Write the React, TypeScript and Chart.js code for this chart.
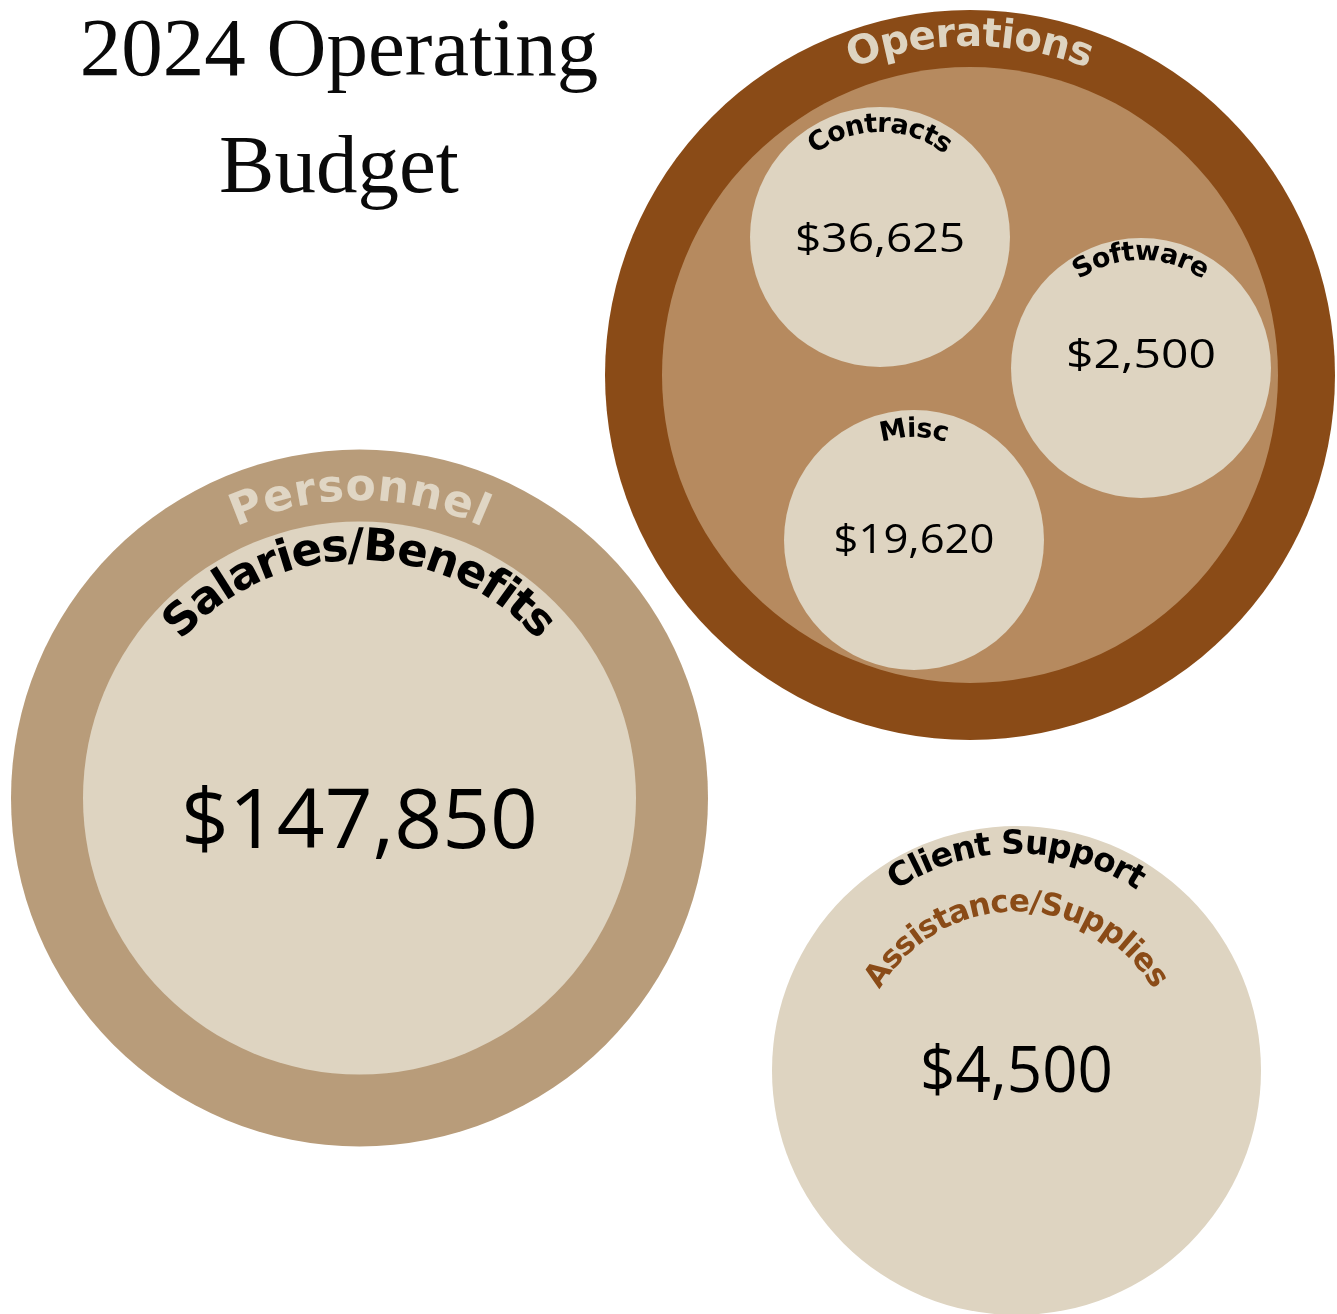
import React, { useEffect, useRef } from "react";
import { Chart, registerables } from "chart.js";

Chart.register(...registerables);

// ---------- data ----------
const TITLE_LINES = ["2024 Operating", "Budget"];

const GROUPS = ["Operations", "Personnel"];

const LEAVES = ["Contracts", "Software", "Misc", "Salaries/Benefits", "Client Support"];
const LEAF_PARENT = ["Operations", "Operations", "Operations", "Personnel", ""];
const LEAF_VALUES = [36625, 2500, 19620, 147850, 4500];
const LEAF_SUBLABEL = ["", "", "", "", "Assistance/Supplies"];

// ---------- layout (data units == pixels of the 1337x1314 frame) ----------
const GROUP_X = [970, 359.5];
const GROUP_Y = [375, 798];
const GROUP_R = [365, 348.5];
const GROUP_INNER_R = [308, 0];

const LEAF_X = [880, 1141, 914, 359.5, 1016.5];
const LEAF_Y = [237, 368, 540, 798, 1070.5];
const LEAF_R = [130, 130, 130, 276.5, 244.5];

// ---------- styles ----------
const W = 1337;
const H = 1314;
const COL_OPS = "#8A4B17";
const COL_OPS_INNER = "#B68A5F";
const COL_PERS = "#B89C7A";
const COL_LIGHT = "#DED4C1";
const COL_GROUP_OUTER = [COL_OPS, COL_PERS];
const COL_GROUP_INNER = [COL_OPS_INNER, "rgba(0,0,0,0)"];
const LABEL_FONT = "'DejaVu Sans', sans-serif";
const VALUE_FONT = "'Open Sans', sans-serif";
const TITLE_FONT = "'Liberation Serif', serif";

// group label: baseline radius, font size, arc length
const GROUP_LABEL = [
  { r: 329, size: 40, arc: 242, color: "#DED4C1" },
  { r: 298, size: 44, arc: 254, color: "#E0D6C4" },
];
// leaf label: baseline radius, font size, arc length
const LEAF_LABEL = [
  { r: 105, size: 27, arc: 140 },
  { r: 108, size: 27, arc: 132 },
  { r: 103, size: 27, arc: 66 },
  { r: 238, size: 45, arc: 404 },
  { r: 217, size: 33, arc: 256 },
];
const SUB_LABEL = [null, null, null, null, { r: 159, size: 31, arc: 330, color: COL_OPS }];
// value text: baseline offset from leaf centre, cap height, width
const VALUE_STYLE = [
  { dy: 15, cap: 30, width: 170 },
  { dy: 0, cap: 30, width: 150 },
  { dy: 13, cap: 30, width: 161 },
  { dy: 50, cap: 61, width: 357 },
  { dy: 21.5, cap: 47, width: 193 },
];

function fmt(v: number) {
  return "$" + v.toLocaleString("en-US");
}

function drawArcText(
  ctx: CanvasRenderingContext2D,
  text: string,
  cx: number,
  cy: number,
  R: number,
  font: string,
  color: string,
  arcLen: number
) {
  ctx.save();
  ctx.font = font;
  ctx.fillStyle = color;
  ctx.textAlign = "center";
  ctx.textBaseline = "alphabetic";
  const chars = Array.from(text);
  const widths = chars.map((c) => ctx.measureText(c).width);
  const natural = widths.reduce((a, b) => a + b, 0);
  const spacing = chars.length > 1 ? (arcLen - natural) / (chars.length - 1) : 0;
  const total = natural + spacing * (chars.length - 1);
  let s = -total / 2;
  chars.forEach((c, i) => {
    const mid = s + widths[i] / 2;
    const a = -Math.PI / 2 + mid / R;
    ctx.save();
    ctx.translate(cx + R * Math.cos(a), cy + R * Math.sin(a));
    ctx.rotate(a + Math.PI / 2);
    ctx.fillText(c, 0, 0);
    ctx.restore();
    s += widths[i] + spacing;
  });
  ctx.restore();
}

function drawValue(
  ctx: CanvasRenderingContext2D,
  text: string,
  cx: number,
  baseline: number,
  cap: number,
  width: number
) {
  ctx.save();
  ctx.font = `400 100px ${VALUE_FONT}`;
  const m = ctx.measureText("0");
  const capRatio = (m.actualBoundingBoxAscent || 71) / 100;
  const size = cap / capRatio;
  ctx.font = `400 ${size}px ${VALUE_FONT}`;
  const tw = ctx.measureText(text).width;
  const sx = width / tw;
  ctx.translate(cx, baseline);
  ctx.scale(sx, 1);
  ctx.fillStyle = "#000";
  ctx.textAlign = "center";
  ctx.textBaseline = "alphabetic";
  ctx.fillText(text, 0, 0);
  ctx.restore();
}

const labelPlugin = {
  id: "packLabels",
  afterDatasetsDraw(chart: any) {
    const ctx: CanvasRenderingContext2D = chart.ctx;
    const xs = chart.scales.x;
    const ys = chart.scales.y;

    // title
    ctx.save();
    ctx.fillStyle = "#0a0a0a";
    ctx.font = `400 83px ${TITLE_FONT}`;
    ctx.textAlign = "center";
    ctx.textBaseline = "alphabetic";
    ctx.fillText(TITLE_LINES[0], 339, 75);
    ctx.fillText(TITLE_LINES[1], 339, 192);
    ctx.restore();

    // group labels
    GROUPS.forEach((g, i) => {
      const st = GROUP_LABEL[i];
      drawArcText(
        ctx,
        g,
        xs.getPixelForValue(GROUP_X[i]),
        ys.getPixelForValue(GROUP_Y[i]),
        st.r,
        `700 ${st.size}px ${LABEL_FONT}`,
        st.color,
        st.arc
      );
    });

    // leaf labels + values
    LEAVES.forEach((name, i) => {
      const cx = xs.getPixelForValue(LEAF_X[i]);
      const cy = ys.getPixelForValue(LEAF_Y[i]);
      const st = LEAF_LABEL[i];
      drawArcText(ctx, name, cx, cy, st.r, `700 ${st.size}px ${LABEL_FONT}`, "#000", st.arc);
      const sub = SUB_LABEL[i];
      if (sub && LEAF_SUBLABEL[i]) {
        drawArcText(ctx, LEAF_SUBLABEL[i], cx, cy, sub.r, `700 ${sub.size}px ${LABEL_FONT}`, sub.color, sub.arc);
      }
      const vs = VALUE_STYLE[i];
      drawValue(ctx, fmt(LEAF_VALUES[i]), cx, cy + vs.dy, vs.cap, vs.width);
    });
  },
};

export default function App() {
  const ref = useRef<HTMLCanvasElement | null>(null);

  useEffect(() => {
    if (!ref.current) return;
    const chart = new Chart(ref.current, {
      type: "bubble",
      data: {
        datasets: [
          {
            label: "Groups",
            data: GROUPS.map((g, i) => ({ x: GROUP_X[i], y: GROUP_Y[i], r: GROUP_R[i] })),
            backgroundColor: COL_GROUP_OUTER,
            borderWidth: 0,
            clip: false,
            order: 3,
          },
          {
            label: "Groups inner",
            data: GROUPS.map((g, i) => ({ x: GROUP_X[i], y: GROUP_Y[i], r: GROUP_INNER_R[i] })),
            backgroundColor: COL_GROUP_INNER,
            borderWidth: 0,
            clip: false,
            order: 2,
          },
          {
            label: "Items",
            data: LEAVES.map((n, i) => ({ x: LEAF_X[i], y: LEAF_Y[i], r: LEAF_R[i] })),
            backgroundColor: COL_LIGHT,
            borderWidth: 0,
            clip: false,
            order: 1,
          },
        ],
      },
      options: {
        animation: false,
        responsive: false,
        events: [],
        layout: { padding: 0, autoPadding: false },
        plugins: { legend: { display: false }, tooltip: { enabled: false } },
        scales: {
          x: { type: "linear", min: 0, max: W, display: false },
          y: { type: "linear", min: 0, max: H, reverse: true, display: false },
        },
      } as any,
      plugins: [labelPlugin],
    });
    return () => chart.destroy();
  }, []);

  return (
    <div style={{ position: "absolute", left: 0, top: 0, width: W, height: H, background: "#fff" }}>
      <canvas ref={ref} width={W} height={H} style={{ width: W, height: H, display: "block" }} />
    </div>
  );
}
